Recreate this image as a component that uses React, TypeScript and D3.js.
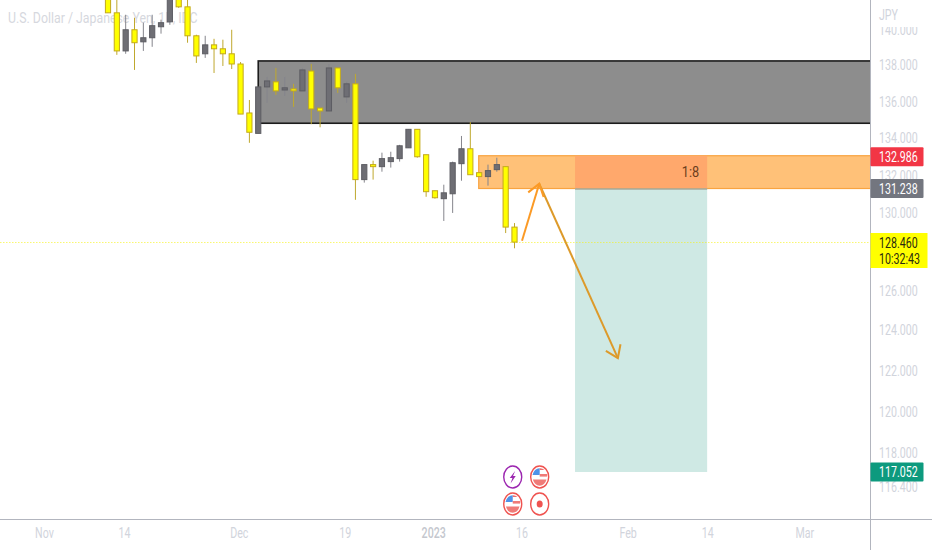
import { useEffect, useRef } from 'react';
import * as d3 from 'd3';

const WIDTH = 932;
const HEIGHT = 550;
const plotRight = 870;
const axisY = 519;

// daily candles, bar 0 is the first one visible
const opens = [142.75, 140.88, 138.73, 139.92, 139.24, 139.47, 140.09, 140.37, 141.9, 141.22, 139.58, 138.57, 139.07, 138.85, 138.57, 138.0, 135.3, 134.19, 136.73, 137.01, 136.56, 136.62, 136.51, 137.61, 135.57, 135.41, 137.78, 136.18, 136.9, 131.71, 132.51, 132.4, 132.67, 132.83, 133.41, 134.41, 133.04, 131.12, 130.7, 130.96, 132.56, 133.36, 132.08, 131.87, 132.24, 132.4, 129.21];
const highs = [143.0, 141.7, 140.77, 140.6, 140.32, 140.77, 140.49, 142.75, 142.3, 141.62, 139.64, 139.58, 139.41, 139.36, 139.92, 138.11, 136.01, 136.73, 137.28, 137.78, 137.28, 136.9, 137.78, 138.0, 135.57, 138.0, 137.78, 137.01, 137.45, 132.51, 132.72, 133.15, 133.2, 133.57, 134.41, 134.41, 133.04, 131.12, 131.44, 132.67, 134.05, 134.8, 132.08, 132.51, 132.88, 132.4, 129.42];
const lows = [140.88, 138.51, 138.57, 137.67, 138.73, 138.96, 139.7, 140.2, 141.16, 139.19, 138.06, 138.34, 137.5, 137.89, 137.72, 135.24, 133.68, 134.19, 135.85, 136.29, 136.23, 135.63, 136.51, 134.69, 134.52, 135.41, 136.4, 135.85, 130.64, 131.55, 131.71, 132.13, 132.35, 132.67, 133.41, 132.88, 130.8, 130.7, 129.53, 129.95, 131.65, 131.97, 131.87, 131.39, 132.13, 128.9, 128.11];
const closes = [140.88, 138.73, 139.92, 139.19, 139.47, 140.15, 140.32, 142.18, 141.22, 139.58, 138.45, 139.07, 138.85, 138.57, 138.0, 135.24, 134.25, 136.73, 137.06, 136.51, 136.68, 136.51, 137.67, 135.52, 135.41, 137.78, 136.68, 136.9, 131.71, 132.51, 132.4, 132.83, 132.88, 133.52, 134.41, 132.93, 131.07, 130.75, 131.01, 132.61, 133.36, 131.97, 131.87, 132.19, 132.51, 129.21, 128.43];

const priceTicks = [140, 138, 136, 134, 132, 130, 126, 124, 122, 120, 118, 116.4];
const timeTicks: Array<[number, string]> = [[-7.25, 'Nov'], [1.8, '14'], [14.8, 'Dec'], [26.8, '19'], [36.8, '2023'], [46.8, '16'], [58.8, 'Feb'], [67.8, '14'], [78.8, 'Mar']];

const lastPrice = 128.46;
const countdown = '10:32:43';
const stopPrice = 132.986;
const entryPrice = 131.238;
const targetPrice = 117.052;
const ratioLabel = '1:8';

const supplyZone = { startBar: 17, top: 138.17, bottom: 134.74 };
const sellZone = { startBar: 41.95 };
const positionBars = [52.85, 67.8];
// projected path: bar index and price
const pathUp: Array<[number, number]> = [[46.85, 128.5], [48.8, 131.49]];
const pathDown: Array<[number, number]> = [[48.8, 131.49], [57.7, 122.56]];

export default function App() {
  const svgRef = useRef<SVGSVGElement>(null);

  useEffect(() => {
    if (!svgRef.current) return;
    const svg = d3.select(svgRef.current);
    svg.selectAll('*').remove();

    const xScale = d3.scaleLinear().domain([0, 46]).range([108, 514.5]);
    const yScale = d3.scaleLog().domain([138, 118]).range([64, 452]);

    const fontFamily = 'Roboto, sans-serif';
    // the source picture is squashed sideways, so every label gets narrowed
    const squeeze = (sel: any, k = 0.76) => {
      sel.each(function (this: SVGTextElement) {
        this.setAttribute('textLength', String(this.getComputedTextLength() * k));
        this.setAttribute('lengthAdjust', 'spacingAndGlyphs');
      });
    };

    const defs = svg.append('defs');
    defs.append('clipPath').attr('id', 'plot-clip').append('rect')
      .attr('x', 0).attr('y', 0).attr('width', plotRight).attr('height', axisY);
    defs.append('clipPath').attr('id', 'scale-clip').append('rect')
      .attr('x', plotRight).attr('y', 27).attr('width', WIDTH - plotRight).attr('height', axisY - 27);

    const plot = svg.append('g').attr('clip-path', 'url(#plot-clip)');

    // Title sits behind the candles
    plot.append('text')
      .attr('x', 8).attr('y', 23)
      .attr('font-family', fontFamily).attr('font-size', 14)
      .attr('fill', '#d6d8de')
      .text('U.S. Dollar / Japanese Yen, 1D, IDC')
      .call(squeeze, 0.88);

    // Zones sit under the candles
    plot.append('rect')
      .attr('x', xScale(supplyZone.startBar))
      .attr('y', yScale(supplyZone.top))
      .attr('width', plotRight + 2 - xScale(supplyZone.startBar))
      .attr('height', yScale(supplyZone.bottom) - yScale(supplyZone.top))
      .attr('fill', '#8d8d8d')
      .attr('stroke', '#1c1c1c')
      .attr('stroke-width', 1.6);

    plot.append('rect')
      .attr('x', xScale(sellZone.startBar))
      .attr('y', yScale(stopPrice))
      .attr('width', plotRight + 2 - xScale(sellZone.startBar))
      .attr('height', yScale(entryPrice) - yScale(stopPrice))
      .attr('fill', '#ffc178')
      .attr('stroke', '#f9a440')
      .attr('stroke-width', 1.2);

    const posX0 = xScale(positionBars[0]);
    const posX1 = xScale(positionBars[1]);
    plot.append('rect')
      .attr('x', posX0).attr('y', yScale(stopPrice))
      .attr('width', posX1 - posX0)
      .attr('height', yScale(entryPrice) - yScale(stopPrice))
      .attr('fill', '#ffa86c');
    plot.append('rect')
      .attr('x', posX0).attr('y', yScale(entryPrice))
      .attr('width', posX1 - posX0)
      .attr('height', yScale(targetPrice) - yScale(entryPrice))
      .attr('fill', '#cfe9e4');
    plot.append('line')
      .attr('x1', posX0).attr('x2', posX1)
      .attr('y1', yScale(entryPrice) + 0.5).attr('y2', yScale(entryPrice) + 0.5)
      .attr('stroke', '#8f8a78').attr('stroke-width', 1.2);

    plot.append('text')
      .attr('x', posX1 - 8).attr('y', yScale(stopPrice) + 16).attr('dy', '0.36em')
      .attr('text-anchor', 'end')
      .attr('font-family', fontFamily).attr('font-size', 15)
      .attr('fill', '#6b3d1c')
      .text(ratioLabel)
      .call(squeeze, 0.85);

    // Current price line
    plot.append('line')
      .attr('x1', 0).attr('x2', plotRight)
      .attr('y1', yScale(lastPrice) + 1).attr('y2', yScale(lastPrice) + 1)
      .attr('stroke', '#f7f312').attr('stroke-width', 1.1)
      .attr('stroke-opacity', 0.6)
      .attr('stroke-dasharray', '1.5,1.5');

    // Candles
    const bars = opens.map((open, i) => ({ i, open, high: highs[i], low: lows[i], close: closes[i] }));
    const isDown = (d: { open: number; close: number }) => d.close < d.open;

    plot.selectAll('.wick')
      .data(bars)
      .enter()
      .append('line')
      .attr('class', 'wick')
      .attr('x1', (d) => xScale(d.i))
      .attr('x2', (d) => xScale(d.i))
      .attr('y1', (d) => yScale(d.high))
      .attr('y2', (d) => yScale(d.low))
      .attr('stroke', (d) => (isDown(d) ? '#bfa82e' : '#85858c'))
      .attr('stroke-width', 1);

    plot.selectAll('.body')
      .data(bars)
      .enter()
      .append('rect')
      .attr('class', 'body')
      .attr('x', (d) => xScale(d.i) - 2.6)
      .attr('width', 5.2)
      .attr('y', (d) => yScale(Math.max(d.open, d.close)))
      .attr('height', (d) => Math.max(1, Math.abs(yScale(d.open) - yScale(d.close))))
      .attr('fill', (d) => (isDown(d) ? '#ffff00' : '#6e6e74'))
      .attr('stroke', (d) => (isDown(d) ? '#c3a91d' : '#5d5d63'))
      .attr('stroke-width', 1);

    // Arrows
    const drawArrow = (pts: Array<[number, number]>, color: string) => {
      const [x0, y0] = [xScale(pts[0][0]), yScale(pts[0][1])];
      const [x1, y1] = [xScale(pts[1][0]), yScale(pts[1][1])];
      const len = Math.hypot(x1 - x0, y1 - y0);
      const ux = (x0 - x1) / len;
      const uy = (y0 - y1) / len;
      const a = (35 * Math.PI) / 180;
      const barb = (sign: number): [number, number] => [
        x1 + 14 * (ux * Math.cos(a) - sign * uy * Math.sin(a)),
        y1 + 14 * (sign * ux * Math.sin(a) + uy * Math.cos(a)),
      ];
      const line = d3.line();
      plot.append('path')
        .attr('d', line([[x0, y0], [x1, y1]]))
        .attr('fill', 'none').attr('stroke', color).attr('stroke-width', 2);
      plot.append('path')
        .attr('d', line([barb(1), [x1, y1], barb(-1)]))
        .attr('fill', 'none').attr('stroke', color).attr('stroke-width', 2);
    };
    drawArrow(pathDown, '#dd9a2a');
    drawArrow(pathUp, '#fb9a26');

    // Event icons above the time scale
    const icon = (cx: number, cy: number, color: string) => {
      const g = svg.append('g').attr('transform', `translate(${cx},${cy})`);
      g.append('ellipse').attr('rx', 9).attr('ry', 11).attr('fill', '#fff').attr('stroke', color).attr('stroke-width', 1.4);
      return g;
    };
    const flag = (cx: number, cy: number) => {
      const g = icon(cx, cy, '#ef5350');
      g.append('path').attr('d', 'M-7.2,-2 A7.2,9 0 0 1 0,-8.8 L0,-2 Z').attr('fill', '#4f93e8');
      g.append('path').attr('d', 'M0,-8.8 A7.2,9 0 0 1 4.8,-7 L0,-7 Z').attr('fill', '#ef6f6c');
      g.append('rect').attr('x', 0).attr('y', -3).attr('width', 7.4).attr('height', 2.6).attr('fill', '#ef7b78');
      g.append('path').attr('d', 'M-6.8,2.6 L6.8,2.6 A7.2,9 0 0 1 -6.8,2.6 Z').attr('fill', '#ef7b78');
    };
    const eventColumns = [xScale(45.8), xScale(48.85)];
    const bolt = icon(eventColumns[0], 477, '#9c27b0');
    bolt.append('path').attr('d', 'M2.4,-6 L-3,1 L-0.3,1 L-2.2,6.4 L3,-1 L0.3,-1 Z').attr('fill', '#9c27b0');
    flag(eventColumns[1], 477);
    flag(eventColumns[0], 504);
    const dot = icon(eventColumns[1], 504, '#ef5350');
    dot.append('ellipse').attr('rx', 3).attr('ry', 3.6).attr('fill', '#ef5350');

    // Time scale
    const timeAxis = d3.axisBottom(xScale)
      .tickValues(timeTicks.map((t) => t[0]))
      .tickFormat((d) => timeTicks.find((t) => t[0] === d)?.[1] ?? '')
      .tickSize(0)
      .tickPadding(9);
    const timeG = svg.append('g').attr('transform', `translate(0,${axisY})`).call(timeAxis);
    timeG.select('.domain').remove();
    timeG.selectAll('text')
      .attr('font-family', fontFamily)
      .attr('font-size', 14)
      .attr('fill', (_, i) => (timeTicks[i][1] === '2023' ? '#c4c7ce' : '#d1d4dc'))
      .attr('font-weight', (_, i) => (timeTicks[i][1] === '2023' ? 500 : 400))
      .call(squeeze);

    // Price scale
    const priceAxis = d3.axisRight(yScale)
      .tickValues(priceTicks)
      .tickFormat((d) => d3.format('.3f')(d as number))
      .tickSize(0)
      .tickPadding(9);
    const priceG = svg.append('g')
      .attr('clip-path', 'url(#scale-clip)')
      .append('g')
      .attr('transform', `translate(${plotRight},0)`)
      .call(priceAxis);
    priceG.select('.domain').remove();
    priceG.selectAll('text')
      .attr('dy', '0.42em')
      .attr('font-family', fontFamily)
      .attr('font-size', 14)
      .attr('fill', '#d1d4dc')
      .call(squeeze);

    svg.append('text')
      .attr('x', plotRight + 9).attr('y', 20)
      .attr('font-family', fontFamily).attr('font-size', 14)
      .attr('fill', '#d1d4dc')
      .text('JPY')
      .call(squeeze);

    // Axis lines
    svg.append('line').attr('x1', plotRight + 0.5).attr('x2', plotRight + 0.5).attr('y1', 0).attr('y2', HEIGHT)
      .attr('stroke', '#b2b5be').attr('stroke-width', 1);
    svg.append('line').attr('x1', 0).attr('x2', WIDTH).attr('y1', axisY + 0.5).attr('y2', axisY + 0.5)
      .attr('stroke', '#b2b5be').attr('stroke-width', 1);

    // Price tags
    const tag = (price: number, fill: string, color: string) => {
      const cy = yScale(price) + (price === stopPrice ? 1 : 0);
      svg.append('rect')
        .attr('x', plotRight + 0.5).attr('y', cy - 9.5)
        .attr('width', 53).attr('height', 19).attr('rx', 1)
        .attr('fill', fill);
      svg.append('text')
        .attr('x', plotRight + 9).attr('y', cy).attr('dy', '0.36em')
        .attr('font-family', fontFamily).attr('font-size', 14)
        .attr('fill', color)
        .text(d3.format('.3f')(price))
        .call(squeeze);
    };
    tag(stopPrice, '#f23645', '#ffffff');
    tag(entryPrice, '#73767f', '#ffffff');
    tag(targetPrice, '#0d9a7e', '#ffffff');

    svg.append('rect')
      .attr('x', plotRight + 0.5).attr('y', 233)
      .attr('width', 57).attr('height', 35)
      .attr('fill', '#ffff00');
    [d3.format('.3f')(lastPrice), countdown].forEach((label, i) => {
      svg.append('text')
        .attr('x', plotRight + 9).attr('y', 243 + i * 15.5).attr('dy', '0.36em')
        .attr('font-family', fontFamily).attr('font-size', 14)
        .attr('fill', '#2a2a10')
        .text(label)
        .call(squeeze);
    });
  }, []);

  return (
    <svg
      ref={svgRef}
      width={WIDTH}
      height={HEIGHT}
      style={{ position: 'absolute', left: 0, top: 0, display: 'block', background: '#fff' }}
    />
  );
}
